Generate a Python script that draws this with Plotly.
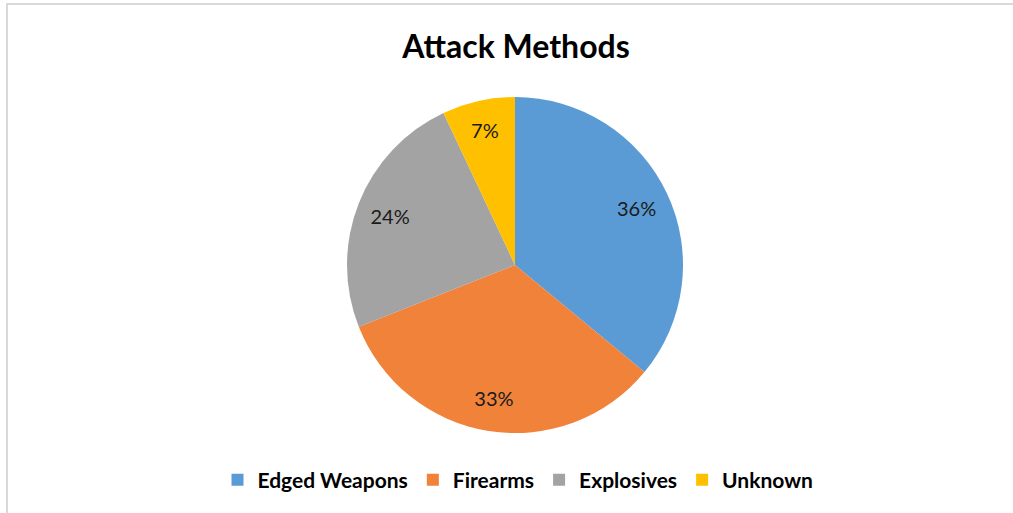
import plotly.graph_objects as go

categories = ["Edged Weapons", "Firearms", "Explosives", "Unknown"]
values = [36, 33, 24, 7]
colors = ["#5B9BD5", "#F0823A", "#A3A3A3", "#FFC000"]

W, H = 1013, 513
cx, cy, r = 515, 265, 168
dom = dict(x=[(cx - r) / W, (cx + r) / W], y=[1 - (cy + r) / H, 1 - (cy - r) / H])
FONT = "Lato, Open Sans, sans-serif"

fig = go.Figure()
# Filled pie (no text)
fig.add_trace(go.Pie(
    labels=categories, values=values, sort=False, direction="clockwise", rotation=0,
    marker=dict(colors=colors, line=dict(width=0)),
    textinfo="none", domain=dom, hoverinfo="label+percent",
))
# Transparent ring used only to place the percentage labels further out
fig.add_trace(go.Pie(
    labels=categories, values=values, sort=False, direction="clockwise", rotation=0,
    hole=0.6, showlegend=False, hoverinfo="skip",
    marker=dict(colors=["rgba(0,0,0,0)"] * len(values), line=dict(width=0)),
    texttemplate="%{percent:.0%}", textposition="inside",
    insidetextorientation="horizontal",
    textfont=dict(family=FONT, size=20, color="#1a1a1a"),
    domain=dom,
))

fig.update_layout(
    width=W, height=H,
    margin=dict(l=0, r=0, t=0, b=0),
    paper_bgcolor="white",
    title=dict(text="Attack Methods", x=516 / W, xanchor="center",
               y=1 - 47 / H, yanchor="middle",
               font=dict(family=FONT, size=32, color="black", weight="bold")),
    legend=dict(orientation="h", x=518 / W, xanchor="center", y=1 - 480 / H, yanchor="middle",
                font=dict(family=FONT, size=21, color="black", weight="bold"),
                itemwidth=30, traceorder="normal"),
    shapes=[dict(type="rect", xref="paper", yref="paper",
                 x0=7 / W, x1=1.05, y0=-0.05, y1=1 - 4 / H,
                 line=dict(color="#D9D9D9", width=2), fillcolor="rgba(0,0,0,0)")],
)

fig.write_html("out.html", config={"displayModeBar": False},
               post_script="document.body.style.margin='0';document.body.style.padding='0';")
